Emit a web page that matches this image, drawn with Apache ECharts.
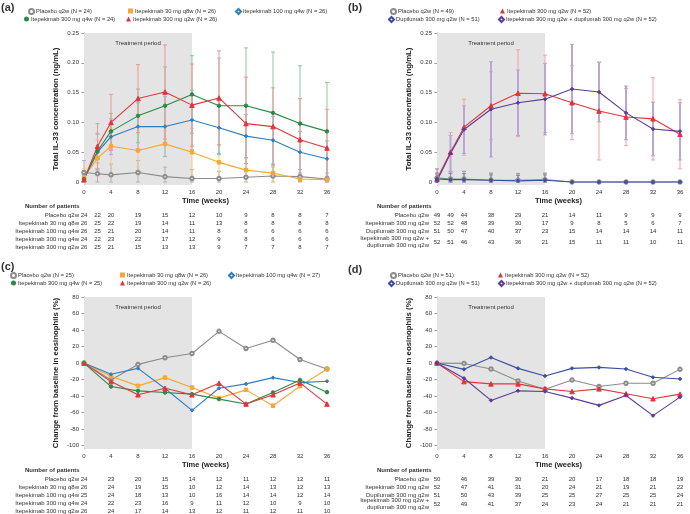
<!DOCTYPE html>
<html lang="en">
<head>
<meta charset="UTF-8">
<title>IL-33 and eosinophils</title>
<style>
  html, body { margin: 0; padding: 0; background: #fff; }
  #chart { width: 690px; height: 514px; }
</style>
</head>
<body>
<div id="chart"></div>
<script src="https://cdn.jsdelivr.net/npm/echarts@6/dist/echarts.min.js"></script>
<script>
// ---- data ----
var weeksAB = [0, 2, 4, 8, 12, 16, 20, 24, 28, 32, 36];
var weeksCD = [0, 4, 8, 12, 16, 20, 24, 28, 32, 36];
var il33Ticks = [0, 0.05, 0.1, 0.15, 0.2, 0.25];
var eosTicks = [-100, -80, -60, -40, -20, 0, 20, 40, 60, 80];

// (a) total IL-33, itepekimab doses (mean and SD)
var namesA = ['Placebo q2w (N = 24)', 'Itepekimab 30 mg q8w (N = 26)', 'Itepekimab 100 mg q4w (N = 26)',
  'Itepekimab 300 mg q4w (N = 24)', 'Itepekimab 300 mg q2w (N = 26)'];
var aPlacebo = [0.016, 0.014, 0.012, 0.016, 0.009, 0.006, 0.006, 0.008, 0.010, 0.009, 0.005];
var aPlaceboSd = [0.020, 0.018, 0.018, 0.020, 0.016, 0.015, 0.012, 0.014, 0.015, 0.012, 0.010];
var a30q8 = [0.008, 0.040, 0.060, 0.053, 0.064, 0.050, 0.033, 0.020, 0.015, 0.005, 0.004];
var a30q8Sd = [0.015, 0.030, 0.030, 0.028, 0.022, 0.040, 0.030, 0.020, 0.015, 0.008, 0.006];
var a100q4 = [0.005, 0.050, 0.076, 0.093, 0.093, 0.104, 0.091, 0.077, 0.070, 0.050, 0.039];
var a100q4Sd = [0.010, 0.030, 0.030, 0.040, 0.050, 0.050, 0.045, 0.036, 0.040, 0.035, 0.030];
var a300q4 = [0.005, 0.052, 0.085, 0.111, 0.128, 0.147, 0.128, 0.128, 0.116, 0.098, 0.085];
var a300q4Sd = [0.008, 0.030, 0.030, 0.045, 0.065, 0.065, 0.080, 0.097, 0.102, 0.097, 0.082];
var a300q2 = [0.004, 0.060, 0.100, 0.140, 0.151, 0.129, 0.141, 0.098, 0.093, 0.071, 0.057];
var a300q2Sd = [0.010, 0.038, 0.047, 0.057, 0.079, 0.069, 0.079, 0.078, 0.065, 0.069, 0.065];

// (b) total IL-33, combination study
var namesB = ['Placebo q2w (N = 49)', 'Itepekimab 300 mg q2w (N = 52)', 'Dupilumab 300 mg q2w (N = 51)',
  'Itepekimab 300 mg q2w + dupilumab 300 mg q2w (N = 52)'];
var bPlacebo = [0.007, 0.005, 0.005, 0.003, 0.003, 0.004, 0, 0, 0, 0, 0];
var bPlaceboSd = [0.015, 0.012, 0.013, 0.012, 0.011, 0.011, 0.002, 0.002, 0.002, 0.002, 0.002];
var bIte = [0.005, 0.050, 0.092, 0.128, 0.149, 0.148, 0.133, 0.119, 0.109, 0.106, 0.080];
var bIteSd = [0.008, 0.033, 0.047, 0.057, 0.073, 0.065, 0.062, 0.082, 0.048, 0.069, 0.058];
var bDupi = [0.005, 0.004, 0.004, 0.003, 0.002, 0.003, 0, 0, 0, 0, 0];
var bDupiSd = [0.010, 0.010, 0.010, 0.009, 0.009, 0.009, 0.002, 0.002, 0.002, 0.002, 0.002];
var bCombo = [0.002, 0.048, 0.088, 0.122, 0.133, 0.139, 0.156, 0.151, 0.116, 0.089, 0.085];
var bComboSd = [0.006, 0.030, 0.040, 0.080, 0.055, 0.060, 0.075, 0.050, 0.045, 0.045, 0.048];

// (c) change from baseline in eosinophils, itepekimab doses
var namesC = ['Placebo q2w (N = 25)', 'Itepekimab 30 mg q8w (N = 26)', 'Itepekimab 100 mg q4w (N = 27)',
  'Itepekimab 300 mg q4w (N = 25)', 'Itepekimab 300 mg q2w (N = 26)'];
var cPlacebo = [0, -20.4, -1.6, 6.4, 11.6, 38.4, 17.6, 27.6, 4.4, -7.2];
var c30q8 = [0, -16, -27.6, -17.6, -29.6, -42.4, -32.4, -51.6, -28, -7.2];
var c100q4 = [0, -13.6, -6.4, -30.8, -57.2, -30.4, -25.2, -17.6, -23.6, -22];
var c300q4 = [0, -28.4, -33.6, -35.6, -37.6, -43.6, -49.6, -35.6, -20.4, -35.2];
var c300q2 = [0, -22.4, -38.4, -30.4, -38.4, -24.4, -49.6, -38.4, -24, -49.6];

// (d) change from baseline in eosinophils, combination study
var namesD = ['Placebo q2w (N = 51)', 'Itepekimab 300 mg q2w (N = 52)', 'Dupilumab 300 mg q2w (N = 51)',
  'Itepekimab 300 mg q2w + dupilumab 300 mg q2w (N = 52)'];
var dPlacebo = [0, -0.4, -7.2, -21.6, -31.6, -20.4, -28.4, -24.4, -24.4, -7.6];
var dIte = [0, -22.4, -25.2, -25.2, -31.2, -34.4, -31.2, -37.2, -43.2, -37.6];
var dDupi = [0, -7.6, 6.8, -6.4, -15.6, -6.4, -5.2, -7.2, -17.2, -19.2];
var dCombo = [0, -18.4, -45.2, -33.6, -34.4, -42.4, -51.2, -39.2, -63.6, -41.2];

// number of patients tables
var rowsA = ['Placebo q2w', 'Itepekimab 30 mg q8w', 'Itepekimab 100 mg q4w', 'Itepekimab 300 mg q4w', 'Itepekimab 300 mg q2w'];
var nA = [
  [24, 22, 20, 19, 15, 12, 10, 9, 8, 8, 7],
  [26, 25, 22, 19, 14, 11, 13, 8, 8, 8, 8],
  [26, 25, 21, 20, 14, 11, 8, 6, 6, 6, 6],
  [24, 22, 23, 22, 17, 12, 9, 8, 6, 6, 6],
  [26, 25, 21, 15, 13, 13, 9, 7, 7, 8, 7]
];
var rowsB = ['Placebo q2w', 'Itepekimab 300 mg q2w', 'Dupilumab 300 mg q2w', 'Itepekimab 300 mg q2w +\ndupilumab 300 mg q2w'];
var nB = [
  [49, 49, 44, 38, 29, 21, 14, 11, 9, 9, 9],
  [52, 52, 48, 39, 30, 17, 9, 8, 5, 6, 7],
  [51, 50, 47, 40, 37, 23, 15, 14, 14, 14, 11],
  [52, 51, 46, 43, 36, 21, 15, 11, 11, 10, 11]
];
var nC = [
  [24, 23, 20, 15, 14, 12, 11, 12, 12, 11],
  [26, 24, 19, 15, 10, 12, 14, 13, 12, 13],
  [25, 24, 18, 13, 10, 16, 14, 14, 12, 14],
  [24, 22, 23, 16, 9, 11, 12, 10, 9, 10],
  [26, 24, 17, 14, 13, 12, 11, 12, 11, 10]
];
var nD = [
  [50, 46, 39, 30, 21, 20, 17, 18, 18, 19],
  [52, 47, 41, 31, 20, 24, 21, 19, 21, 22],
  [51, 50, 43, 39, 25, 25, 27, 25, 25, 24],
  [52, 49, 41, 37, 24, 23, 24, 21, 21, 21]
];

// ---- styling ----
var FONT = 'Liberation Sans, Arial, sans-serif';
var colA = ['#8c8c8c', '#f5a833', '#2f7ec0', '#2b8a46', '#e3343e'];
var errColA = ['#b3b3b3', '#f8c982', '#8db8e0', '#8cc79c', '#f29499'];
var colB = ['#8c8c8c', '#e3343e', '#3a4fa3', '#5d3b98'];
var errColB = ['#8f8f8f', '#f4a0a5', '#7f86c0', '#b9a5d8'];
var symA = ['emptyCircle', 'rect', 'diamond', 'circle', 'triangle'];
var iconA = ['emptyCircle', 'rect', 'emptyDiamond', 'circle', 'triangle'];
var symB = ['emptyCircle', 'triangle', 'diamond', 'diamond'];
var iconB = ['emptyCircle', 'triangle', 'emptyDiamond', 'emptyDiamond'];

var chart = echarts.init(document.getElementById('chart'));

var grids = [
  { left: 84, top: 33, width: 243, height: 152 },
  { left: 437, top: 33, width: 243, height: 152 },
  { left: 84, top: 297, width: 243, height: 152 },
  { left: 437, top: 297, width: 243, height: 152 }
];

function xAxisFor(i) {
  return {
    type: 'value', gridIndex: i, min: 0, max: 36, interval: 4,
    name: 'Time (weeks)', nameLocation: 'middle', nameGap: 12,
    nameTextStyle: { fontFamily: FONT, fontSize: 7.5, fontWeight: 'bold', color: '#222' },
    axisLine: { show: false }, axisTick: { show: false }, splitLine: { show: false },
    axisLabel: { fontFamily: FONT, fontSize: 6, color: '#333', margin: 4 }
  };
}

function yAxisFor(i, min, max, ticks, title, fmt) {
  return {
    type: 'value', gridIndex: i, min: min, max: max, offset: 2,
    name: title, nameLocation: 'middle', nameGap: 22,
    nameTextStyle: { fontFamily: FONT, fontSize: 7.8, fontWeight: 'bold', color: '#222' },
    axisLine: { show: true, lineStyle: { color: '#808080', width: 0.8 } },
    axisTick: { show: true, length: 2.5, customValues: ticks, lineStyle: { color: '#808080', width: 0.8 } },
    axisLabel: { fontFamily: FONT, fontSize: 6, color: '#333', margin: 3, customValues: ticks, formatter: fmt },
    splitLine: { show: false }
  };
}

var il33Fmt = function (v) { return v === 0 ? '0' : v.toFixed(2); };
var eosFmt = function (v) { return String(v); };

function treatmentArea() {
  return {
    silent: true,
    itemStyle: { color: '#e4e4e4' },
    label: { show: true, position: 'insideTop', distance: 7, formatter: 'Treatment period',
      fontFamily: FONT, fontSize: 6, color: '#333' },
    data: [[{ xAxis: 0 }, { xAxis: 16 }]]
  };
}

function lineSeries(name, weeks, vals, gi, color, sym, withArea) {
  var s = {
    type: 'line', name: name, xAxisIndex: gi, yAxisIndex: gi,
    data: weeks.map(function (w, k) { return [w, vals[k]]; }),
    symbol: sym, symbolSize: sym === 'triangle' ? 4.5 : 3.5,
    lineStyle: { color: color, width: 1.1 },
    itemStyle: { color: color, borderColor: color, borderWidth: 1 },
    z: 5, animation: false
  };
  if (withArea) s.markArea = treatmentArea();
  return s;
}

function errSeries(weeks, vals, sds, gi, color, width) {
  return {
    type: 'custom', name: 'err', xAxisIndex: gi, yAxisIndex: gi, z: 3, animation: false, silent: true,
    data: weeks.map(function (w, k) { return [w, Math.max(0, vals[k] - sds[k]), vals[k] + sds[k]]; }),
    encode: { x: 0, y: [1, 2] },
    renderItem: function (params, api) {
      var lo = api.coord([api.value(0), api.value(1)]);
      var hi = api.coord([api.value(0), api.value(2)]);
      var st = { stroke: color, lineWidth: width, fill: null };
      var cap = { stroke: color, lineWidth: 1, fill: null };
      return {
        type: 'group', children: [
          { type: 'line', shape: { x1: lo[0], y1: lo[1], x2: hi[0], y2: hi[1] }, style: st },
          { type: 'line', shape: { x1: hi[0] - 2, y1: hi[1], x2: hi[0] + 2, y2: hi[1] }, style: cap },
          { type: 'line', shape: { x1: lo[0] - 2, y1: lo[1], x2: lo[0] + 2, y2: lo[1] }, style: cap }
        ]
      };
    }
  };
}

var series = [];
var meansA = [aPlacebo, a30q8, a100q4, a300q4, a300q2];
var sdsA = [aPlaceboSd, a30q8Sd, a100q4Sd, a300q4Sd, a300q2Sd];
var meansB = [bPlacebo, bIte, bDupi, bCombo];
var sdsB = [bPlaceboSd, bIteSd, bDupiSd, bComboSd];
var meansC = [cPlacebo, c30q8, c100q4, c300q4, c300q2];
var meansD = [dPlacebo, dIte, dDupi, dCombo];

meansA.forEach(function (m, i) { series.push(errSeries(weeksAB, m, sdsA[i], 0, errColA[i], 1)); });
meansB.forEach(function (m, i) { series.push(errSeries(weeksAB, m, sdsB[i], 1, errColB[i], i === 3 ? 2 : 1)); });
meansA.forEach(function (m, i) { series.push(lineSeries(namesA[i], weeksAB, m, 0, colA[i], symA[i], i === 0)); });
meansB.forEach(function (m, i) { series.push(lineSeries(namesB[i], weeksAB, m, 1, colB[i], symB[i], i === 0)); });
meansC.forEach(function (m, i) { series.push(lineSeries(namesC[i], weeksCD, m, 2, colA[i], symA[i], i === 0)); });
meansD.forEach(function (m, i) { series.push(lineSeries(namesD[i], weeksCD, m, 3, colB[i], symB[i], i === 0)); });

// legend item positions [left, centerY]
var legPosA = [[28, 11], [128, 11], [235, 11], [24, 19], [126, 19]];
var legPosB = [[390, 11], [500, 11], [388, 19], [498, 19]];
var legPosC = [[10, 275], [120, 275], [228, 275], [11, 283], [120, 283]];
var legPosD = [[390, 275], [498, 275], [388, 283], [498, 283]];

var legends = [];
function addLegends(names, icons, pos) {
  names.forEach(function (n, i) {
    legends.push({
      left: pos[i][0], top: pos[i][1] - 3, padding: 0, itemWidth: 5, itemHeight: 5, selectedMode: false,
      itemStyle: { borderWidth: 0 },
      textStyle: { fontFamily: FONT, fontSize: 5.8, color: '#333', padding: [0, 0, 0, -3] },
      data: [{ name: n, icon: icons[i] }]
    });
  });
}
addLegends(namesA, iconA, legPosA);
addLegends(namesB, iconB, legPosB);
addLegends(namesC, iconA, legPosC);
addLegends(namesD, iconB, legPosD);

chart.setOption({
  animation: false,
  grid: grids,
  legend: legends,
  xAxis: [xAxisFor(0), xAxisFor(1), xAxisFor(2), xAxisFor(3)],
  yAxis: [
    yAxisFor(0, -0.005, 0.25, il33Ticks, 'Total IL-33 concentration (ng/mL)', il33Fmt),
    yAxisFor(1, -0.005, 0.25, il33Ticks, 'Total IL-33 concentration (ng/mL)', il33Fmt),
    yAxisFor(2, -104, 80, eosTicks, 'Change from baseline in eosinophils (%)', eosFmt),
    yAxisFor(3, -104, 80, eosTicks, 'Change from baseline in eosinophils (%)', eosFmt)
  ],
  series: series
});

// ---- panel letters and patient tables ----
function txt(x, y, s, align, weight, size) {
  return {
    type: 'text', x: x, y: y, silent: true,
    style: {
      text: s, align: align, verticalAlign: 'middle', textAlign: align, textVerticalAlign: 'middle',
      fontFamily: FONT, fontSize: size || 6, fontWeight: weight || 'normal', fill: '#333', lineHeight: 7
    }
  };
}

function table(axisIdx, weeks, labels, rows, rowY, labelRight, headX, headY) {
  var els = [txt(headX, headY, 'Number of patients', 'left', 'bold', 6)];
  rows.forEach(function (r, i) {
    els.push(txt(labelRight, rowY[i], labels[i], 'right'));
    r.forEach(function (n, j) {
      var px = chart.convertToPixel({ xAxisIndex: axisIdx }, weeks[j]);
      els.push(txt(px, rowY[i], String(n), 'center'));
    });
  });
  return els;
}

var g = [];
g.push(txt(1, 8, '(a)', 'left', 'bold', 11));
g.push(txt(348, 8, '(b)', 'left', 'bold', 11));
g.push(txt(1, 267, '(c)', 'left', 'bold', 11));
g.push(txt(348, 270, '(d)', 'left', 'bold', 11));
g = g.concat(table(0, weeksAB, rowsA, nA, [215, 223, 231, 239, 247], 79, 25, 206));
g = g.concat(table(1, weeksAB, rowsB, nB, [215, 223, 231, 242], 429, 377, 206));
g = g.concat(table(2, weeksCD, rowsA, nC, [479, 487, 495, 503, 511], 79, 25, 470));
g = g.concat(table(3, weeksCD, rowsB, nD, [479, 487, 495, 504], 429, 377, 470));

chart.setOption({ graphic: g });
</script>
</body>
</html>
